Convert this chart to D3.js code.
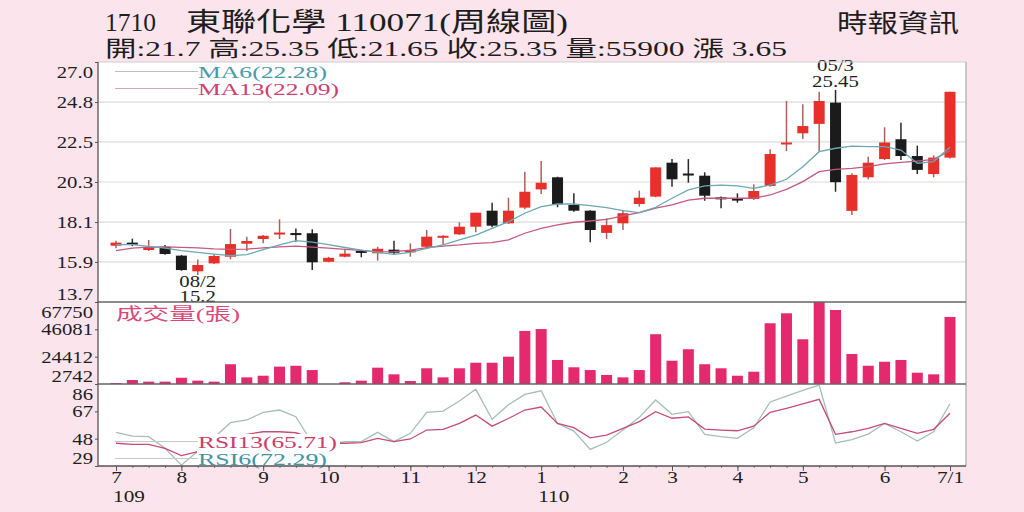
<!DOCTYPE html>
<html>
<head>
<meta charset="utf-8">
<title>1710 東聯化學 周線圖</title>
<script src="https://cdn.jsdelivr.net/npm/d3@7/dist/d3.min.js"></script>
<style>
  body { margin: 0; background: #fce4ec; }
  svg { display: block; }
  text { font-family: "Liberation Serif", "Noto Sans CJK TC", serif; fill: #1e1e1e; }
</style>
</head>
<body>
<script>
// 週K資料 109/7 ~ 110/7/1 (52週)
var open  = [16.82,16.99,16.58,16.76,16.27,15.40,15.84,16.21,16.93,17.19,
             17.47,17.52,17.51,15.93,16.21,16.53,16.40,16.60,16.45,16.76,
             17.29,17.45,17.87,18.76,18.06,18.93,19.94,20.61,19.08,18.76,
             17.53,18.06,19.13,19.54,21.42,20.82,20.70,19.50,19.43,19.41,
             20.13,22.43,23.05,23.57,24.75,18.75,20.61,21.62,22.72,21.79,
             20.79,21.70];
var high  = [17.10,17.21,17.14,16.86,16.30,16.05,16.36,17.75,17.32,17.41,
             18.28,17.78,17.73,16.20,16.65,16.58,16.76,17.10,16.95,17.69,
             17.40,18.12,18.65,19.20,19.48,20.92,21.51,20.64,19.72,18.78,
             18.34,18.80,19.87,21.16,21.62,21.62,20.89,19.54,19.72,20.22,
             22.16,24.84,24.66,25.35,25.45,20.83,21.75,23.38,23.63,22.36,
             21.83,25.35];
var low   = [16.68,16.80,16.53,16.32,15.43,15.20,15.81,16.07,16.53,16.95,
             17.19,17.04,15.47,15.90,16.18,16.18,15.99,16.36,16.21,16.67,
             16.86,17.41,17.56,17.84,18.02,18.84,19.68,18.95,18.70,17.01,
             17.19,17.69,18.98,19.50,20.09,20.31,19.31,18.89,19.20,19.35,
             20.09,22.07,22.73,22.03,19.81,18.52,20.50,21.57,21.57,20.79,
             20.61,21.65];
var close = [16.99,16.88,16.76,16.36,15.47,15.75,16.25,16.91,17.08,17.37,
             17.55,17.46,15.90,16.15,16.38,16.45,16.65,16.43,16.58,17.32,
             17.37,17.87,18.65,17.93,18.76,19.81,20.31,19.11,18.76,17.69,
             17.96,18.62,19.48,21.16,20.50,20.78,19.59,19.45,19.40,19.85,
             21.90,22.54,23.45,24.84,20.34,20.74,21.42,22.54,21.79,21.02,
             21.70,25.35];
// 成交量(張)
var volume = [3500,5900,4600,4600,7700,5400,4600,18400,8000,9300,
              16500,17200,13800,2742,4100,5400,15700,10400,5100,15200,
              8000,15200,19600,19600,24400,44800,46300,21800,16000,13800,
              9900,8000,13800,42200,21200,30300,18400,15200,9300,12500,
              50900,58800,38200,68500,61400,26500,17200,20400,21800,11700,
              10400,55900];
// 均線
var ma6  = [16.88,16.88,16.78,16.68,16.55,16.45,16.35,16.27,16.33,16.60,
            16.86,17.10,17.02,16.88,16.72,16.58,16.45,16.34,16.45,16.67,
            16.86,17.14,17.41,17.78,18.15,18.62,18.98,19.13,19.13,19.04,
            18.93,18.76,18.65,18.95,19.45,19.91,20.13,20.18,20.13,20.00,
            20.18,20.50,21.20,22.03,22.22,22.34,22.31,22.31,22.12,21.39,
            21.48,22.28];
var ma13 = [16.55,16.68,16.74,16.75,16.73,16.70,16.64,16.62,16.63,16.70,
            16.76,16.80,16.74,16.68,16.62,16.56,16.48,16.49,16.58,16.71,
            16.80,16.86,16.95,16.99,17.14,17.51,17.78,17.97,18.12,18.19,
            18.28,18.47,18.65,18.90,19.08,19.35,19.45,19.45,19.45,19.45,
            19.63,19.94,20.37,20.92,21.05,21.11,21.20,21.35,21.44,21.51,
            21.60,22.09];
// RSI
var rsi6  = [52.4,49.8,49.4,41.3,29.6,39.2,48.8,59.1,61.0,66.3,
             67.9,63.3,45.0,44.5,46.0,46.0,52.4,45.9,51.7,66.3,
             67.2,74.2,82.3,61.5,71.6,78.8,81.3,58.6,53.3,40.5,
             45.5,54.0,62.8,74.9,64.9,66.8,51.0,49.4,48.2,55.6,
             73.5,77.6,81.6,85.3,45.0,47.3,51.2,58.6,52.8,46.4,
             52.8,72.29];
var rsi13 = [44.8,44.1,44.1,41.3,36.2,39.0,45.0,49.4,51.0,52.8,
             52.8,52.1,48.2,44.8,44.8,45.3,48.2,45.9,47.8,54.0,
             54.5,58.6,64.4,56.7,62.0,67.9,70.0,58.6,55.7,48.6,
             50.5,55.2,59.9,66.8,62.2,63.1,54.7,54.0,53.5,56.7,
             66.3,69.1,72.1,75.3,51.0,52.8,55.2,58.6,55.2,51.7,
             54.5,65.71];

// 刻度
var priceTicks  = [13.7, 15.92, 18.13, 20.35, 22.57, 24.78, 27.0];
var priceLabels = ["13.7","15.9","18.1","20.3","22.5","24.8","27.0"];
var volTicks    = [2742, 24412, 46081, 67750];
var rsiTicks    = [29, 48, 67, 86];
var monthIdx    = [0, 4, 9, 13, 18, 22, 26, 31, 34, 38, 42, 47, 51];
var monthLabels = ["7","8","9","10","11","12","1","2","3","4","5","6","7/1"];
var yearIdx     = [0, 26];
var yearLabels  = ["109", "110"];
var hiLoDates   = ["05/3", "08/2"];

//畫布
var width = 1024, height = 512;
var left = 98, right = 966;
var pTop = 62, pBot = 302, vBot = 384, rBot = 466;
var n = close.length;

var svg = d3.select("body").append("svg")
    .attr("width", width)
    .attr("height", height);

svg.append("rect")
    .attr("width", width).attr("height", height)
    .attr("fill", "#fce4ec");
svg.append("rect")
    .attr("x", left).attr("y", pTop)
    .attr("width", right - left).attr("height", rBot - pTop)
    .attr("fill", "#fff");

// 文字水平拉寬
function stretch(sel, k) {
    sel.each(function(){
        var w = this.getComputedTextLength();
        d3.select(this).attr("textLength", w * k).attr("lengthAdjust", "spacingAndGlyphs");
    });
}

//比例尺
var xScale = d3.scaleLinear().domain([0, n - 1]).range([116, 950]);
var yPrice = d3.scaleLinear().domain([13.7, 27.0]).range([pBot, pTop]);
var yVol   = d3.scaleLinear().domain([2742, 67750]).range([vBot, pBot]).clamp(true);
var yRsi   = d3.scaleLinear().domain([29, 86]).range([rBot, vBot]);

// 格線
svg.selectAll(".grid")
    .data(priceTicks.slice(1, -1))
    .enter().append("line")
    .attr("x1", left).attr("x2", right)
    .attr("y1", function(d){ return yPrice(d); })
    .attr("y2", function(d){ return yPrice(d); })
    .attr("stroke", "#dcdcdc").attr("stroke-width", 1.2);

// 左軸 (頭尾刻度字往內收)
function leftAxis(scale, ticks, labels, top, bot) {
    var axis = d3.axisLeft(scale).tickValues(ticks).tickSize(3).tickPadding(2)
        .tickFormat(function(d, i){ return labels ? labels[i] : d; });
    var g = svg.append("g").attr("transform", "translate(" + left + ",0)").call(axis);
    g.attr("font-family", null);
    g.select(".domain").remove();
    g.selectAll(".tick line").attr("stroke", "#555");
    var t = g.selectAll(".tick text")
        .attr("font-size", "17px")
        .attr("fill", "#1e1e1e")
        .attr("y", function(d){
            var p = scale(d);
            if (p < top + 10) return top + 10 - p;
            if (p > bot - 8) return bot - 8 - p;
            return 0;
        });
    stretch(t, 1.22);
}
leftAxis(yPrice, priceTicks, priceLabels, pTop, pBot);
leftAxis(yVol, volTicks, null, pBot, vBot);
leftAxis(yRsi, rsiTicks, null, vBot, rBot);

// K線
var candle = svg.selectAll(".candle")
    .data(d3.range(n))
    .enter().append("g");
candle.append("line")
    .attr("x1", function(i){ return xScale(i); })
    .attr("x2", function(i){ return xScale(i); })
    .attr("y1", function(i){ return yPrice(high[i]); })
    .attr("y2", function(i){ return yPrice(low[i]); })
    .attr("stroke", function(i){ return close[i] >= open[i] ? "#a8645a" : "#2a2a2a"; })
    .attr("stroke-width", 1.5);
candle.append("rect")
    .attr("x", function(i){ return xScale(i) - 5.5; })
    .attr("width", 11)
    .attr("y", function(i){ return yPrice(Math.max(open[i], close[i])); })
    .attr("height", function(i){ return Math.max(2, Math.abs(yPrice(open[i]) - yPrice(close[i]))); })
    .attr("fill", function(i){ return close[i] >= open[i] ? "#e8302a" : "#1b1b1b"; });

// 均線
function drawLine(data, scale, color, w) {
    svg.append("path")
        .datum(data)
        .attr("fill", "none")
        .attr("stroke", color)
        .attr("stroke-width", w)
        .attr("d", d3.line()
            .x(function(d, i){ return xScale(i); })
            .y(function(d){ return scale(d); }));
}
drawLine(ma13, yPrice, "#c4587e", 1.3);
drawLine(ma6, yPrice, "#6aa8b4", 1.3);

// 成交量
svg.selectAll(".vol")
    .data(volume)
    .enter().append("rect")
    .attr("x", function(d, i){ return xScale(i) - 5.5; })
    .attr("width", 11)
    .attr("y", function(d){ return yVol(d); })
    .attr("height", function(d){ return vBot - yVol(d); })
    .attr("fill", "#e5296e");

// RSI
drawLine(rsi6, yRsi, "#a6beb7", 1.3);
drawLine(rsi13, yRsi, "#c44d76", 1.3);

// 最高最低標註
var hiI = d3.maxIndex(high), loI = d3.minIndex(low);
[[hiLoDates[0], 71, hiI], [high[hiI].toFixed(2), 87, hiI],
 [hiLoDates[1], 287, loI], [String(low[loI]), 302, loI]].forEach(function(a){
    var t = svg.append("text")
        .attr("x", xScale(a[2])).attr("y", a[1])
        .attr("text-anchor", "middle")
        .attr("font-size", "16px")
        .text(a[0]);
    stretch(t, 1.3);
});

// 圖例
function legend(label, y, color, lineColor, w, size) {
    svg.append("line")
        .attr("x1", 115).attr("x2", 198)
        .attr("y1", y - 6.5).attr("y2", y - 6.5)
        .attr("stroke", lineColor).attr("stroke-width", 1);
    svg.append("text")
        .attr("x", 198).attr("y", y)
        .attr("font-size", size)
        .attr("textLength", w).attr("lengthAdjust", "spacingAndGlyphs")
        .style("fill", color)
        .text(label);
}
legend("MA6(" + ma6[n - 1].toFixed(2) + ")", 78, "#4a9aab", "#bdbdbd", 129, "17px");
legend("MA13(" + ma13[n - 1].toFixed(2) + ")", 95, "#d0406e", "#d4a8b8", 141, "17px");

svg.append("rect")
    .attr("x", 197).attr("y", 434)
    .attr("width", 143).attr("height", rBot - 434)
    .attr("fill", "#fff");
legend("RSI13(" + rsi13[n - 1].toFixed(2) + ")", 448, "#cc3d6c", "#c8c8c8", 139, "16px");
legend("RSI6(" + rsi6[n - 1].toFixed(2) + ")", 465, "#3f95a4", "#c8c8c8", 129, "16px");

svg.append("text")
    .attr("x", 116).attr("y", 320)
    .attr("font-size", "17px")
    .attr("textLength", 124).attr("lengthAdjust", "spacingAndGlyphs")
    .style("fill", "#d94a7a")
    .text("成交量(張)");

// 邊框與分隔線
svg.append("line").attr("x1", left).attr("x2", right).attr("y1", pTop).attr("y2", pTop)
    .attr("stroke", "#cfcfcf");
svg.append("line").attr("x1", right).attr("x2", right).attr("y1", pTop).attr("y2", rBot)
    .attr("stroke", "#9a9a9a");
[pBot, vBot].forEach(function(y){
    svg.append("line").attr("x1", left).attr("x2", right).attr("y1", y).attr("y2", y)
        .attr("stroke", "#666").attr("stroke-width", 1.3);
});
svg.append("line").attr("x1", left).attr("x2", left).attr("y1", pTop).attr("y2", rBot)
    .attr("stroke", "#555").attr("stroke-width", 1.3);

// X軸
var weekAxis = d3.axisBottom(xScale).tickValues(d3.range(n)).tickSize(2).tickFormat("");
var gw = svg.append("g").attr("transform", "translate(0," + rBot + ")").call(weekAxis);
gw.select(".domain").remove();
gw.selectAll(".tick line").attr("stroke", "#777");

var xAxis = d3.axisBottom(xScale).tickValues(monthIdx).tickSize(5).tickPadding(0)
    .tickFormat(function(d, i){ return monthLabels[i]; });
var gx = svg.append("g").attr("transform", "translate(0," + rBot + ")").call(xAxis);
gx.attr("font-family", null);
gx.select(".domain").attr("d", "M" + left + ",0H" + right).attr("stroke", "#555").attr("stroke-width", 1.3);
gx.selectAll(".tick line").attr("stroke", "#555");
var xt = gx.selectAll(".tick text").attr("font-size", "17px").attr("fill", "#1e1e1e");
stretch(xt, 1.25);

svg.selectAll(".year")
    .data(yearIdx)
    .enter().append("text")
    .attr("x", function(d){ return xScale(d) - 3; })
    .attr("y", 502)
    .attr("font-size", "17px")
    .text(function(d, i){ return yearLabels[i]; })
    .call(stretch, 1.25);

// 標題
var title = svg.append("text").attr("y", 31).attr("font-size", "26px");
title.append("tspan").attr("x", 105).attr("textLength", 51).attr("lengthAdjust", "spacingAndGlyphs").text("1710");
title.append("tspan").attr("x", 186).attr("textLength", 382).attr("lengthAdjust", "spacingAndGlyphs")
    .text("東聯化學 110071(周線圖)");

svg.append("text")
    .attr("x", 105).attr("y", 56)
    .attr("font-size", "22px")
    .attr("textLength", 682).attr("lengthAdjust", "spacingAndGlyphs")
    .text("開:" + open[n - 1] + " 高:" + high[n - 1] + " 低:" + low[n - 1] + " 收:" + close[n - 1] +
          " 量:" + volume[n - 1] + " 漲 " + (close[n - 1] - close[n - 2]).toFixed(2));

svg.append("text")
    .attr("x", 837).attr("y", 32)
    .attr("font-size", "25px")
    .attr("textLength", 122).attr("lengthAdjust", "spacingAndGlyphs")
    .text("時報資訊");
</script>
</body>
</html>
